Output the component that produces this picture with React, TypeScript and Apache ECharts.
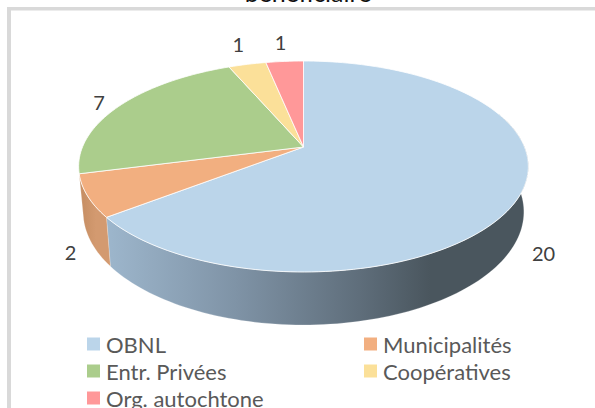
import React, { useEffect, useRef } from "react";
import * as echarts from "echarts";

const titleText = "bénéficiaire";
const categories = ["OBNL", "Municipalités", "Entr. Privées", "Coopératives", "Org. autochtone"];
const values = [20, 2, 7, 1, 1];
const colors = ["#BBD5EA", "#F2AF80", "#ABCD8C", "#FBE099", "#FF9899"];
const legendLeft = ["OBNL", "Entr. Privées", "Org. autochtone"];
const legendRight = ["Municipalités", "Coopératives"];

// Perspective disc geometry
const CX = 303.5;
const CY = 147;
const R = 221;
const PERSP = 0.1848;
const TILT = -74.7;
const VISIBLE_FROM = 70;
const VISIBLE_TO = 255.4;
const FONT = "Lato, 'Open Sans', sans-serif";
const labelOffsets: [number, number][] = [
  [24, 57],
  [-17, 56],
  [-21, -4],
  [-9, -20],
  [-4, -19],
];
const sideFills = [
  { x0: 107, x1: 430, stops: ["#9DB6CC", "#7F93A6", "#5F6E7B", "#4A565E"], offs: [0, 0.4, 0.78, 1] },
  { x0: 80, x1: 112, stops: ["#C58D62", "#D39A70", "#D39A70", "#D39A70"], offs: [0, 0.5, 0.8, 1] },
];

function top(deg: number): [number, number] {
  const t = (deg * Math.PI) / 180;
  const u = Math.sin(t);
  const v = Math.cos(t);
  const d = 1 + PERSP * v;
  return [CX + (R * u) / d, (TILT * v + CY) / d];
}
function bottom(deg: number): [number, number] {
  const [x, y] = top(deg);
  return [CX + (x - CX) * 0.98, y + 49 + (y - 217) * 0.0727];
}
function arc(a0: number, a1: number, f: (d: number) => [number, number]) {
  const pts: [number, number][] = [];
  const n = Math.max(2, Math.ceil(Math.abs(a1 - a0) / 1.5));
  for (let i = 0; i <= n; i++) pts.push(f(a0 + ((a1 - a0) * i) / n));
  return pts;
}

const total = values.reduce((a, b) => a + b, 0);

function renderSlice(params: any, api: any) {
  const i = params.seriesIndex;
  const before = values.slice(0, i).reduce((a, b) => a + b, 0);
  const a0 = (before / total) * 360;
  const a1 = ((before + api.value(0)) / total) * 360;
  const children: any[] = [];
  const s0 = Math.max(a0, VISIBLE_FROM);
  const s1 = Math.min(a1, VISIBLE_TO);
  if (s1 > s0 && sideFills[i]) {
    const g = sideFills[i];
    const side = [...arc(s0, s1, top), ...arc(s1, s0, bottom)];
    children.push({
      type: "polygon",
      shape: { points: side },
      style: {
        fill: new echarts.graphic.LinearGradient(
          g.x0, 0, g.x1, 0,
          g.stops.map((color, k) => ({ offset: g.offs[k], color })),
          true,
        ),
        stroke: "rgba(255,255,255,0.35)",
        lineWidth: 0.6,
      },
    });
  }
  children.push({
    type: "polygon",
    shape: { points: [[CX, CY], ...arc(a0, a1, top)] },
    style: { fill: colors[i], stroke: "rgba(255,255,255,0.8)", lineWidth: 1, lineJoin: "round" },
  });
  const [mx, my] = top((a0 + a1) / 2);
  children.push({
    type: "text",
    style: {
      x: mx + labelOffsets[i][0],
      y: my + labelOffsets[i][1],
      text: String(api.value(0)),
      fill: "#404040",
      font: `20px ${FONT}`,
      align: "center",
      verticalAlign: "middle",
    },
  });
  return { type: "group", children };
}

export default function App() {
  const ref = useRef<HTMLDivElement>(null);
  useEffect(() => {
    document.body.style.margin = "0";
    document.body.style.background = "#fff";
    const chart = echarts.init(ref.current!, undefined, { renderer: "svg" });
    const legendBase = {
      orient: "vertical" as const,
      top: 333,
      height: 110,
      padding: 0,
      itemWidth: 13,
      itemHeight: 13,
      itemGap: 5,
      icon: "rect",
      selectedMode: false,
      textStyle: {
        color: "#595959",
        fontSize: 22,
        fontFamily: FONT,
        padding: [0, 0, 0, 1],
      },
    };
    chart.setOption({
      animation: false,
      backgroundColor: "#ffffff",
      legend: [
        { ...legendBase, left: 87, data: legendLeft },
        { ...legendBase, left: 364, data: legendRight },
      ],
      graphic: [
        { type: "rect", shape: { x: 7, y: 7, width: 588, height: 3.5 }, style: { fill: "#D9D9D9" } },
        { type: "rect", shape: { x: 7, y: 7, width: 4, height: 401 }, style: { fill: "#D9D9D9" } },
        {
          type: "text",
          style: {
            x: 308,
            y: -8,
            text: titleText,
            fill: "#111111",
            font: `25px ${FONT}`,
            align: "center",
            verticalAlign: "middle",
          },
        },
      ],
      series: categories.map((name, i) => ({
        type: "custom",
        name,
        coordinateSystem: "none",
        itemStyle: { color: colors[i] },
        data: [[values[i]]],
        renderItem: renderSlice,
      })),
    });
    return () => chart.dispose();
  }, []);
  return <div ref={ref} style={{ width: 595, height: 408 }} />;
}
